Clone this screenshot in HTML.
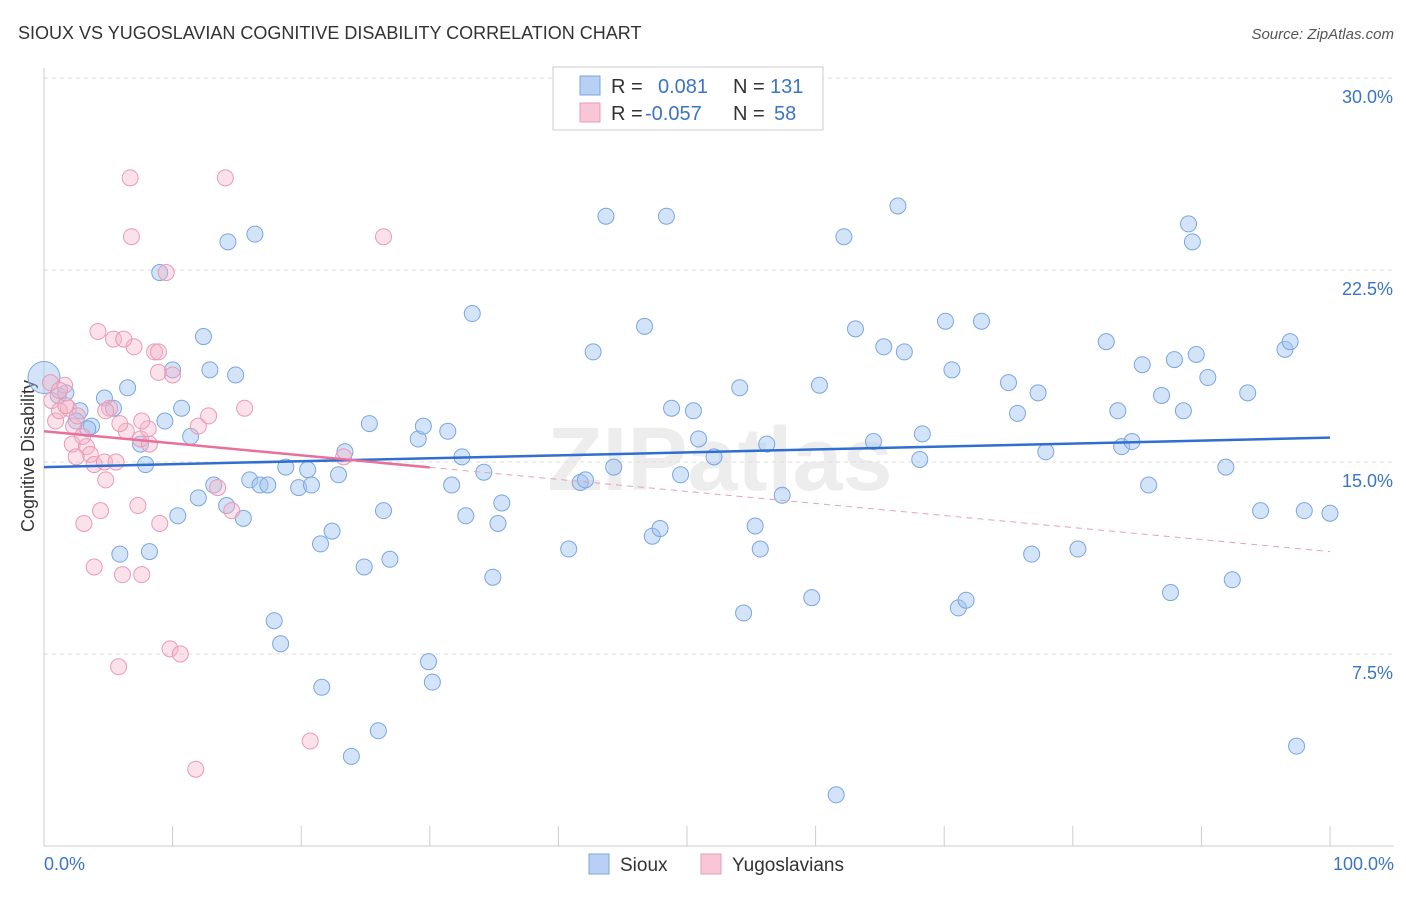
<!DOCTYPE html>
<html><head><meta charset="utf-8"><style>
body{margin:0;background:#fff;font-family:"Liberation Sans",sans-serif;}
svg text{font-family:"Liberation Sans",sans-serif;}
</style></head><body>
<svg id="chart" width="1406" height="892">
<text x="18" y="39" font-size="18" fill="#333">SIOUX VS YUGOSLAVIAN COGNITIVE DISABILITY CORRELATION CHART</text>
<text x="1394" y="39" font-size="15" fill="#555" font-style="italic" text-anchor="end">Source: ZipAtlas.com</text>
<text x="34" y="456" font-size="18" fill="#333" text-anchor="middle" transform="rotate(-90 34 456)">Cognitive Disability</text>
<text x="720" y="490" font-size="90" fill="#ddd" opacity="0.5" text-anchor="middle" font-weight="bold">ZIPatlas</text>
<g id="grid"></g><g id="marks"></g>
<g>
<rect x="553" y="67" width="270" height="63" fill="#fff" stroke="#ccc"/>
<rect x="580" y="76" width="20" height="19" fill="#b8d0f4" stroke="#7aa6e0"/>
<rect x="580" y="103" width="20" height="19" fill="#f8c6d6" stroke="#e99ab5"/>
<text x="611" y="93" font-size="20" fill="#333">R =</text><text x="658" y="93" font-size="20" fill="#3a75c4">0.081</text>
<text x="733" y="93" font-size="20" fill="#333">N =</text><text x="770" y="93" font-size="20" fill="#3a75c4">131</text>
<text x="611" y="120" font-size="20" fill="#333">R =</text><text x="645" y="120" font-size="20" fill="#3a75c4">-0.057</text>
<text x="733" y="120" font-size="20" fill="#333">N =</text><text x="774" y="120" font-size="20" fill="#3a75c4">58</text>
</g>
<g>
<rect x="589" y="854" width="20" height="20" fill="#b8d0f4" stroke="#7aa6e0"/>
<text x="620" y="871" font-size="19" fill="#333">Sioux</text>
<rect x="701" y="854" width="20" height="20" fill="#f8c6d6" stroke="#e99ab5"/>
<text x="732" y="871" font-size="19" fill="#333">Yugoslavians</text>
</g>
</svg>
<script>
const yTicks=[7.5,15,22.5,30];
const yTickLabels=["7.5%","15.0%","22.5%","30.0%"];
const xTickLabels=["0.0%","100.0%"];
const blueX=[0,1.1,1.7,2.8,2.5,3.7,3.4,4.7,5.4,6.5,7.5,7.9,5.9,8.2,9.0,10.0,9.4,10.7,11.4,12.4,12.9,14.9,14.3,16.4,12.0,10.4,13.2,14.2,15.5,16.0,16.8,17.4,18.8,19.8,20.5,20.8,22.9,23.4,21.5,22.4,24.9,26.4,26.9,25.3,29.1,29.5,31.4,32.5,31.7,32.8,34.2,33.3,34.9,35.3,35.6,17.9,18.4,21.6,23.9,26.0,29.9,30.2,40.8,41.7,42.1,44.3,42.7,43.7,46.7,47.3,47.9,48.4,48.8,49.5,50.5,50.9,52.1,54.1,54.4,55.3,55.7,56.2,57.4,59.7,60.3,61.6,62.2,63.1,64.5,65.3,66.4,66.9,68.1,68.3,70.1,70.6,71.1,71.7,72.9,75.0,75.7,76.8,77.3,77.9,80.4,82.6,83.5,83.8,84.6,85.4,85.9,86.9,87.6,87.9,88.6,89.0,89.3,89.6,90.5,91.9,92.4,93.6,94.6,96.5,96.9,97.4,98.0,100];
const blueY=[18.3,17.6,17.7,17.0,16.6,16.4,16.3,17.5,17.1,17.9,15.7,14.9,11.4,11.5,22.4,18.6,16.6,17.1,16.0,19.9,18.6,18.4,23.6,23.9,13.6,12.9,14.1,13.3,12.8,14.3,14.1,14.1,14.8,14.0,14.7,14.1,14.5,15.4,11.8,12.3,10.9,13.1,11.2,16.5,15.9,16.4,16.2,15.2,14.1,12.9,14.6,20.8,10.5,12.6,13.4,8.8,7.9,6.2,3.5,4.5,7.2,6.4,11.6,14.2,14.3,14.8,19.3,24.6,20.3,12.1,12.4,24.6,17.1,14.5,17.0,15.9,15.2,17.9,9.1,12.5,11.6,15.7,13.7,9.7,18.0,2.0,23.8,20.2,15.8,19.5,25.0,19.3,15.1,16.1,20.5,18.6,9.3,9.6,20.5,18.1,16.9,11.4,17.7,15.4,11.6,19.7,17.0,15.6,15.8,18.8,14.1,17.6,9.9,19.0,17.0,24.3,23.6,19.2,18.3,14.8,10.4,17.7,13.1,19.4,19.7,3.9,13.1,13.0];
const pinkX=[0.5,0.6,0.9,1.2,1.6,1.9,2.2,2.3,2.6,3.1,3.3,3.6,3.9,4.2,4.4,3.9,4.7,4.8,5.1,5.4,5.6,5.8,6.1,6.4,6.7,6.8,7.0,7.3,7.5,7.6,8.1,8.6,8.9,8.9,9.0,9.5,9.8,10.0,10.6,11.8,12.0,12.8,13.5,14.1,14.6,15.6,20.7,23.3,26.4,5.9,4.8,3.0,1.7,6.2,1.2,2.5,7.6,8.2];
const pinkY=[18.1,17.4,16.6,17.0,18.0,17.1,15.7,16.4,16.8,12.6,15.6,15.3,14.9,20.1,13.1,10.9,15.0,14.3,17.1,19.8,15.0,7.0,10.6,16.2,26.1,23.8,19.5,13.3,15.9,10.6,16.3,19.3,19.3,18.5,12.6,22.4,7.7,18.4,7.5,3.0,16.4,16.8,14.0,26.1,13.1,17.1,4.1,15.2,23.8,16.5,17.0,16.0,17.2,19.8,17.8,15.2,16.6,15.7];
const blueTrend=[14.8,15.95];
const pinkTrend=[16.2,11.5];
const NS="http://www.w3.org/2000/svg";
const X=v=>44+v*12.86, Y=v=>846-v*25.6;
function mk(p,t,a){const e=document.createElementNS(NS,t);for(const k in a)e.setAttribute(k,a[k]);p.appendChild(e);return e;}
const g=document.getElementById('grid'),m=document.getElementById('marks');
yTicks.forEach((t,i)=>{
 const l=mk(g,'line',{x1:44,x2:1394,y1:Y(t),y2:Y(t),stroke:'#ddd','stroke-dasharray':'4,4'});
 
 
 const tx=mk(g,'text',{x:1393,y:Y(t)+25,'font-size':18,fill:'#3a75c4','text-anchor':'end'});tx.textContent=yTickLabels[i];
 
 
});
const ax=mk(g,'line',{x1:44,x2:1394,y1:846,y2:846,stroke:'#ccc'});


const ay=mk(g,'line',{x1:44,x2:44,y1:68,y2:846,stroke:'#ccc'});


for(let i=0;i<=10;i++){const t=mk(g,'line',{x1:X(i*10),x2:X(i*10),y1:826,y2:846,stroke:'#ccc'});
 
 }
[[0,'start',44],[100,'end',1394]].forEach((d,i)=>{const t=mk(g,'text',{x:d[2],y:870,'font-size':18,fill:'#3a75c4','text-anchor':d[1]});t.textContent=xTickLabels[i];
 
 });
blueX.forEach((x,i)=>{const c=mk(m,'circle',{cx:X(x),cy:Y(blueY[i]),r:i==0?16:8,fill:'rgba(160,195,240,0.45)',stroke:'#7aa6e0','stroke-width':1});
 
 });
pinkX.forEach((x,i)=>{const c=mk(m,'circle',{cx:X(x),cy:Y(pinkY[i]),r:8,fill:'rgba(245,180,200,0.4)',stroke:'#e99ab5','stroke-width':1});
 
 });
const bl=mk(m,'line',{x1:X(0),x2:X(100),y1:Y(blueTrend[0]),y2:Y(blueTrend[1]),stroke:'#2f6fd0','stroke-width':2.5});


const pv=x=>pinkTrend[0]+(pinkTrend[1]-pinkTrend[0])*x/100;
const pl=mk(m,'line',{x1:X(0),x2:X(30),y1:Y(pv(0)),y2:Y(pv(30)),stroke:'#e8709a','stroke-width':2.5});


const pd=mk(m,'line',{x1:X(30),x2:X(100),y1:Y(pv(30)),y2:Y(pv(100)),stroke:'#e8a0b8','stroke-width':1,'stroke-dasharray':'6,5'});


</script>
</body></html>
